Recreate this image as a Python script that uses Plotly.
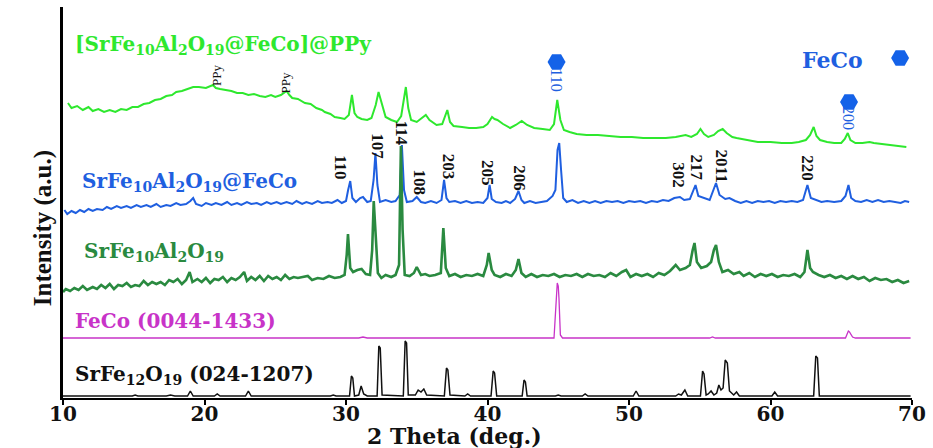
import plotly.graph_objects as go

# ---------------- data ----------------
# Two-theta positions / relative intensities for each pattern
ppy_x = [10.35,10.6,11.0,11.4,11.8,12.1,12.5,12.9,13.3,13.7,14.1,14.5,14.9,15.3,15.7,16.1,16.5,16.9,17.3,17.7,
         18.0,18.4,18.8,19.2,19.6,20.1,20.6,20.8,21.1,21.5,21.9,22.3,22.7,23.1,23.5,23.9,24.3,24.7,25.0,25.4,
         25.8,26.0,26.2,26.6,27.1,27.5,27.9,28.3,28.5,28.9,29.2,29.6,29.9,30.2,30.42,30.6,30.8,31.1,31.5,31.8,
         32.1,32.3,32.55,32.8,33.2,33.6,33.9,34.1,34.23,34.4,34.6,35.0,35.3,35.64,35.9,36.4,36.8,37.05,37.16,37.35,
         37.6,38.2,38.7,39.2,39.7,40.0,40.32,40.5,40.7,41.1,41.6,42.0,42.42,42.8,43.3,43.9,44.4,44.7,44.93,45.15,
         45.4,45.8,46.3,47.0,47.8,48.6,49.4,50.2,51.0,51.8,52.6,53.3,54.0,54.4,54.8,55.05,55.3,55.6,56.0,56.3,
         56.62,56.9,57.3,57.6,58.3,59.1,60.0,60.8,61.5,62.0,62.5,62.8,63.05,63.25,63.5,64.0,64.5,65.0,65.25,65.46,
         65.65,66.0,66.5,67.0,67.3,67.8,68.4,69.0,69.6]
ppy_y = [45,40,42,38,41,37,39,36,38,36,39,38,41,41,44,45,48,49,52,53,
         56,57,59,61,61,60,63,60,59,58,57,55,55,53,54,52,51,53,51,53,
         57,53,50,49,45,44,40,38,36,34,31,30,29,33,53,35,31,29,28,30,
         43,56,43,31,28,26,32,53,61,40,28,26,29,33,28,23,24,33,38,26,
         22,21,20,20,21,24,31,29,28,24,20,23,27,23,20,19,18,24,48,28,
         18,16,14,13,13,12,11,11,10,10,10,11,13,11,14,19,14,11,13,17,
         19,15,11,10,8,6,6,5,5,6,8,13,21,12,8,6,5,5,9,15,
         8,5,5,6,5,4,3,2,1]

feco_comp_x = [10.1,10.3,10.6,10.9,11.2,11.5,11.8,12.1,12.4,12.8,13.1,13.4,13.8,14.1,14.5,14.8,15.2,15.5,15.9,16.2,
               16.6,16.9,17.3,17.6,18.0,18.3,18.7,19.0,19.2,19.4,19.8,20.1,20.5,20.8,21.2,21.6,21.9,22.3,22.6,23.0,
               23.3,23.7,24.0,24.4,24.7,25.1,25.4,25.8,26.2,26.5,26.9,27.2,27.6,28.0,28.3,28.7,29.0,29.4,29.7,30.0,
               30.15,30.3,30.45,30.7,31.0,31.2,31.5,31.75,31.95,32.08,32.22,32.4,32.8,33.2,33.5,33.8,33.95,34.1,34.3,34.7,
               35.0,35.3,35.6,36.0,36.4,36.75,36.93,37.1,37.3,37.7,38.1,38.5,38.9,39.3,39.7,40.0,40.15,40.3,40.6,41.0,
               41.3,41.6,41.95,42.19,42.4,42.6,43.0,43.4,43.8,44.2,44.6,44.8,44.95,45.07,45.2,45.35,45.6,46.0,46.4,46.8,
               47.2,47.6,48.0,48.4,48.8,49.2,49.6,50.0,50.4,50.8,51.2,51.6,52.0,52.4,52.8,53.2,53.6,53.9,54.3,54.7,
               54.9,55.3,55.7,56.15,56.4,56.8,57.1,57.5,57.9,58.3,58.7,59.1,59.5,59.9,60.3,60.7,61.1,61.5,61.9,62.3,
               62.61,62.85,63.2,63.6,64.0,64.5,65.0,65.3,65.51,65.7,66.0,66.4,66.8,67.2,67.6,68.0,68.4,68.8,69.2,69.5,69.8]
feco_comp_y = [8,4,7,5,8,6,9,7,9,8,11,9,12,10,12,10,13,11,13,11,
               14,11,13,12,15,13,14,17,20,14,12,15,13,15,13,16,13,15,13,16,
               14,15,13,16,14,16,14,16,14,17,14,16,14,17,15,16,15,18,15,17,
               28,37,20,16,20,21,16,17,38,65,33,16,18,16,17,23,73,28,16,17,
               21,16,15,17,15,18,38,20,16,17,15,17,15,16,15,20,33,19,16,15,
               17,15,19,27,18,15,17,15,16,17,22,28,68,75,48,20,16,18,15,17,
               15,17,15,17,16,17,15,17,16,17,15,17,16,18,17,20,21,18,19,33,
               22,20,18,35,23,19,20,17,15,17,15,17,16,17,15,17,16,17,16,18,
               33,20,18,16,17,16,17,22,33,20,17,16,18,16,18,16,17,16,15,17,16]

hexa_x = [10.0,10.2,10.5,10.8,11.1,11.4,11.7,12.1,12.4,12.7,13.0,13.3,13.6,13.9,14.2,14.5,14.8,15.1,15.4,15.7,
          16.0,16.3,16.6,16.9,17.2,17.5,17.8,18.1,18.4,18.7,18.95,19.15,19.5,19.8,20.1,20.4,20.7,21.0,21.3,21.6,
          21.9,22.2,22.5,22.8,23.0,23.3,23.6,23.9,24.2,24.5,24.8,25.1,25.4,25.7,26.0,26.3,26.6,26.9,27.3,27.6,
          28.0,28.4,28.8,29.2,29.6,29.9,30.05,30.14,30.3,30.5,30.8,31.1,31.4,31.7,31.85,31.96,32.1,32.25,32.5,32.8,
          33.2,33.5,33.75,33.88,34.0,34.15,34.5,34.8,35.0,35.3,35.6,35.9,36.3,36.7,36.88,37.05,37.3,37.7,38.1,38.5,
          38.9,39.3,39.7,39.95,40.08,40.3,40.5,40.9,41.3,41.7,42.0,42.19,42.4,42.7,43.1,43.5,43.9,44.3,44.7,45.1,
          45.5,45.9,46.3,46.7,47.1,47.5,47.9,48.3,48.7,49.1,49.5,49.8,50.1,50.5,50.9,51.3,51.7,52.1,52.5,52.9,
          53.3,53.6,54.0,54.3,54.5,54.63,54.8,55.1,55.5,55.8,56.0,56.15,56.35,56.6,57.0,57.4,57.8,58.1,58.5,58.9,
          59.3,59.7,60.1,60.5,60.9,61.3,61.7,62.1,62.4,62.55,62.61,62.8,63.0,63.4,63.8,64.2,64.6,65.0,65.4,65.8,
          66.2,66.6,67.0,67.4,67.8,68.2,68.6,69.0,69.4,69.8]
hexa_y = [1,4,2,5,3,7,3,6,4,8,5,9,4,8,7,10,6,8,7,12,
          8,11,9,11,8,13,11,14,9,13,21,11,14,11,15,10,14,13,16,11,
          15,13,16,21,12,16,13,17,12,17,14,16,13,18,14,16,15,16,17,13,
          15,14,17,15,16,18,38,59,25,21,23,24,19,18,43,92,53,20,15,18,
          16,18,28,147,63,18,17,20,26,18,19,17,18,20,65,25,17,19,16,18,
          17,19,17,28,40,23,18,16,19,17,23,34,20,16,19,16,18,17,19,16,
          18,17,19,16,19,17,18,16,20,17,21,23,16,19,17,19,16,20,18,22,
          28,23,25,28,43,50,31,25,27,31,43,48,31,21,23,19,21,17,20,16,
          19,17,19,16,18,17,19,16,21,38,43,25,21,18,16,18,15,17,14,17,
          14,16,12,15,13,14,11,13,10,12]

feco_ref_x = [10.0,30.9,31.2,31.5,44.7,44.85,44.93,45.0,45.05,45.15,45.3,55.7,55.9,56.1,65.3,65.5,65.58,65.8,66.0,69.9]
feco_ref_y = [0,0,1,0,0,30,55,52,40,3,0,0,1,0,0,7,6,1,0,0]

srfe_ref_x = [10.0,14.9,15.1,15.3,17.3,17.6,17.9,18.8,19.0,19.2,20.7,20.9,21.1,22.9,23.1,23.3,28.9,29.1,29.3,30.25,
              30.38,30.48,30.6,30.9,31.07,31.25,31.5,32.2,32.32,32.42,32.55,34.05,34.18,34.28,34.4,34.9,35.1,35.3,35.5,35.7,
              36.95,37.1,37.2,37.35,38.4,38.6,38.8,40.25,40.4,40.5,40.65,42.45,42.58,42.68,42.8,44.8,45.0,45.2,46.7,46.9,
              47.1,50.3,50.5,50.7,53.3,53.5,53.7,53.95,54.15,55.05,55.2,55.3,55.45,55.6,55.8,56.0,56.2,56.35,56.5,56.65,
              56.8,56.95,57.1,57.4,57.6,57.8,60.1,60.3,60.5,63.05,63.2,63.32,63.45,69.9]
srfe_ref_y = [2,2,3,2,2,3,2,2,7,2,2,4,2,2,7,2,2,3,2,2,
              22,20,2,3,12,4,2,2,52,50,3,2,57,55,3,3,8,6,9,3,
              2,30,28,3,2,4,2,2,27,25,2,2,18,16,2,2,3,2,2,4,
              2,2,7,2,2,4,3,8,2,2,27,24,3,4,7,3,5,13,8,10,
              38,35,7,3,6,2,2,6,2,2,42,40,2,2]

# stacking offsets of the five patterns (arbitrary intensity units)
offsets = {"ppy": 250, "feco_comp": 180, "hexa": 105, "feco_ref": 60, "srfe_ref": 0}

series_labels = ["[SrFe<sub>10</sub>Al<sub>2</sub>O<sub>19</sub>@FeCo]@PPy",
                 "SrFe<sub>10</sub>Al<sub>2</sub>O<sub>19</sub>@FeCo",
                 "SrFe<sub>10</sub>Al<sub>2</sub>O<sub>19</sub>",
                 "FeCo (0044-1433)",
                 "SrFe<sub>12</sub>O<sub>19</sub> (024-1207)"]

hkl_labels = ["110", "107", "114", "108", "203", "205", "206", "302", "217", "2011", "220"]
hkl_x = [29.65, 32.25, 33.93, 35.26, 37.30, 40.04, 42.28, 53.51, 54.84, 56.60, 62.63]
hkl_y = [231, 252, 265, 215, 231, 225, 220, 223, 230, 232, 230]

feco_hkl = ["110", "200"]
feco_hkl_x = [44.88, 65.55]
feco_hkl_y = [318, 280]
feco_marker_y = [336, 296]

ppy_label_x = [20.81, 25.72]
ppy_label_y = [323, 315]

x_ticks = [10, 20, 30, 40, 50, 60, 70]

# ---------------- styles ----------------
C_PPY = "#2ee82e"
C_COMP = "#1f5fe0"
C_HEXA = "#2a8a40"
C_FECO = "#c833c8"
C_SRFE = "#111111"
C_HEX_MARK = "#1462e8"

fig = go.Figure()

def add(xs, ys, off, color, width):
    fig.add_trace(go.Scatter(x=xs, y=[v + off for v in ys], mode="lines",
                             line=dict(color=color, width=width), showlegend=False,
                             hoverinfo="skip"))

add(srfe_ref_x, srfe_ref_y, offsets["srfe_ref"], C_SRFE, 1.5)
add(feco_ref_x, feco_ref_y, offsets["feco_ref"], C_FECO, 1.3)
add(feco_comp_x, feco_comp_y, offsets["feco_comp"], C_COMP, 2.0)
add(hexa_x, hexa_y, offsets["hexa"], C_HEXA, 2.6)
add(ppy_x, ppy_y, offsets["ppy"], C_PPY, 2.0)

# FeCo hexagon markers (peak markers + legend key)
fig.add_trace(go.Scatter(x=feco_hkl_x + [69.16], y=feco_marker_y + [340], mode="markers",
                         marker=dict(symbol="hexagon2", size=18, color=C_HEX_MARK),
                         showlegend=False, hoverinfo="skip"))

serif_b = dict(family="DejaVu Serif", weight="bold")
ann = []
label_pos = [(10.70, 353, C_PPY), (11.19, 216, C_COMP), (11.33, 146, C_HEXA),
             (10.70, 77, C_FECO), (10.70, 23, C_SRFE)]
for txt, (lx, ly, col) in zip(series_labels, label_pos):
    ann.append(dict(x=lx, y=ly, xref="x", yref="y", text=txt, showarrow=False,
                    xanchor="left", yanchor="middle",
                    font=dict(size=20, color=col, **serif_b)))

for t, hx, hy in zip(hkl_labels, hkl_x, hkl_y):
    ann.append(dict(x=hx, y=hy, xref="x", yref="y", text=t, showarrow=False, textangle=90,
                    font=dict(family="Liberation Serif", size=17, color="#111111", weight="bold")))

for t, hx, hy in zip(feco_hkl, feco_hkl_x, feco_hkl_y):
    ann.append(dict(x=hx, y=hy, xref="x", yref="y", text=t, showarrow=False, textangle=90,
                    font=dict(family="Liberation Serif", size=16, color=C_COMP)))

for px_, py_ in zip(ppy_label_x, ppy_label_y):
    ann.append(dict(x=px_, y=py_, xref="x", yref="y", text="PPy", showarrow=False, textangle=-90,
                    font=dict(family="Liberation Serif", size=13, color="#111111")))

ann.append(dict(x=64.39, y=338, xref="x", yref="y", text="FeCo", showarrow=False,
                font=dict(size=22, color=C_COMP, **serif_b)))

ann.append(dict(x=-0.042, y=0.435, xref="paper", yref="paper", text="Intensity (a.u.)",
                showarrow=False, textangle=-90,
                font=dict(family="Liberation Serif", size=25, color="#111111", weight="bold")))
ann.append(dict(x=0.461, y=-0.098, xref="paper", yref="paper", text="2 Theta (deg.)",
                showarrow=False, yanchor="middle",
                font=dict(size=22, color="#111111", **serif_b)))

fig.update_layout(
    width=933, height=448,
    margin=dict(l=63, r=14, t=7, b=50),
    paper_bgcolor="white", plot_bgcolor="white",
    annotations=ann,
    xaxis=dict(range=[10, 70], tickvals=x_ticks, showgrid=False, zeroline=False,
               showline=True, linecolor="black", linewidth=2, ticks="outside",
               ticklen=5, tickwidth=2, tickcolor="black", ticklabelstandoff=-8,
               ticklabeloverflow="allow",
               tickfont=dict(size=20, color="#111111", **serif_b)),
    yaxis=dict(range=[0, 391], showgrid=False, zeroline=False, showticklabels=False,
               showline=True, linecolor="black", linewidth=2.5, ticks=""),
)

fig.write_html("out.html")
